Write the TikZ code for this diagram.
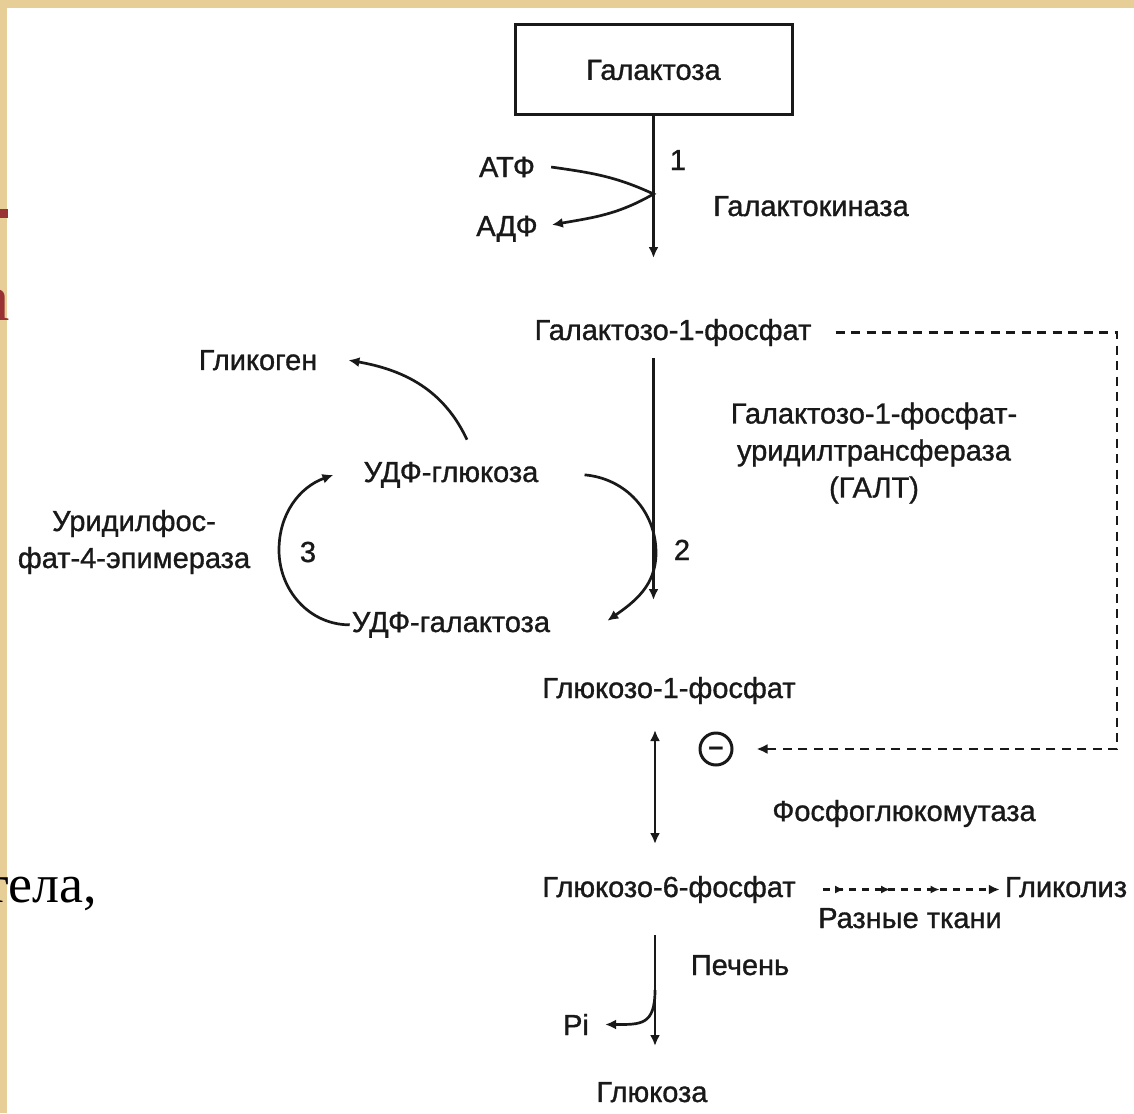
\documentclass[tikz,border=0pt]{standalone}
\usepackage{fontspec}
\setmainfont{Liberation Sans}
\newfontfamily\diagfont{Liberation Sans}[FakeBold=1.1]
\newfontfamily\slideserif{Liberation Serif}
\usetikzlibrary{arrows.meta,decorations.markings}
\definecolor{slidebeige}{RGB}{231,206,150}
\definecolor{slidered}{RGB}{152,50,52}
\definecolor{ink}{RGB}{25,25,25}

\begin{document}
\begin{tikzpicture}[
  x=1pt, y=1pt,
  >={Latex[length=11pt,width=10pt]},
  every node/.style={font=\diagfont\fontsize{29}{37}\selectfont, inner sep=2pt, text=ink},
  metab/.style={anchor=base},
  enzyme/.style={align=center},
  stepno/.style={anchor=base},
  box/.style={draw=ink, line width=3pt, minimum width=277pt, minimum height=90pt},
  arrow/.style={->, draw=ink, line width=2.7pt},
  twoway/.style={<->, draw=ink, line width=2.7pt},
  inhib/.style={->, draw=ink, line width=2.7pt, dash pattern=on 9pt off 6.5pt},
  tissue/.style={->, draw=ink, line width=2.4pt, dash pattern=on 7pt off 6pt,
    postaction={decorate},
    decoration={markings,
      mark=at position 0.12 with {\arrow{Latex[length=9pt,width=8pt]}},
      mark=at position 0.38 with {\arrow{Latex[length=9pt,width=8pt]}},
      mark=at position 0.66 with {\arrow{Latex[length=9pt,width=8pt]}}}},
  inhibitor/.style={draw=ink, circle, line width=3pt, minimum size=32pt, inner sep=0pt, font=\bfseries\fontsize{27}{27}\selectfont},
  fragment/.style={inner sep=0pt, text=black, font=\slideserif\fontsize{54}{60}\selectfont}
]

  \useasboundingbox (0,0) rectangle (1134,-1113);
  \clip (0,0) rectangle (1134,-1113);

  \fill[slidebeige] (0,0) rectangle (1134,-8);
  \fill[slidebeige] (0,0) rectangle (7,-1113);
  \fill[slidered] (0,-209) rectangle (8,-218);
  \node[fragment, anchor=base east, text=slidered, font=\slideserif\fontsize{66}{70}\selectfont] (titlefrag) at (10,-320) {а};
  \node[fragment, anchor=base west] (bodyfrag) at (-15,-902) {тела,};


  \node[box]                   (galactose)  at (653.5,-70)  {Галактоза};
  \node[metab]                 (atp)        at (507,-177)   {АТФ};
  \node[metab]                 (adp)        at (507,-236)   {АДФ};
  \node[stepno]                (stepone)    at (678,-170)   {1};
  \node[metab]                 (kinase)     at (811,-216)   {Галактокиназа};

  \node[metab]                 (gal1p)      at (673,-340)   {Галактозо-1-фосфат};
  \node[enzyme]                (galt)       at (874,-453)   {Галактозо-1-фосфат-\\уридилтрансфераза\\(ГАЛТ)};
  \node[stepno]                (steptwo)    at (682,-560)   {2};

  \node[metab]                 (glycogen)   at (258,-370)   {Гликоген};
  \node[metab]                 (udpglc)     at (451,-482)   {УДФ-глюкоза};
  \node[metab]                 (udpgal)     at (451,-632)   {УДФ-галактоза};
  \node[stepno]                (stepthree)  at (308,-562)   {3};
  \node[enzyme]                (epimerase)  at (134,-542)   {Уридилфос-\\фат-4-эпимераза};

  \node[metab]                 (g1p)        at (669,-698)   {Глюкозо-1-фосфат};
  \node[inhibitor]             (minus)      at (716,-749)   {\raisebox{-8.5pt}[0pt][0pt]{−}};
  \node[metab]                 (mutase)     at (904,-821)   {Фосфоглюкомутаза};

  \node[metab]                 (g6p)        at (669,-897)   {Глюкозо-6-фосфат};
  \node[metab]                 (glycolysis) at (1066,-897)  {Гликолиз};
  \node[metab]                 (tissues)    at (910,-928)   {Разные ткани};
  \node[metab]                 (liver)      at (740,-975)   {Печень};
  \node[metab]                 (pi)         at (576,-1035)  {Pi};
  \node[metab]                 (glucose)    at (652,-1102)  {Глюкоза};


  \coordinate (kinjoin)    at (653.5,-194);
  \coordinate (kinend)     at (653.5,-258);
  \coordinate (galtstart)  at (653.5,-358);
  \coordinate (galtend)    at (653.5,-600);
  \coordinate (galtturn)   at (656,-553);
  \coordinate (epiturn)    at (279,-550);
  \coordinate (mutasetop)  at (655,-730);
  \coordinate (mutasebot)  at (655,-844);
  \coordinate (liverstart) at (655,-935);
  \coordinate (liverend)   at (655,-1046);
  \coordinate (piturn)     at (655,-990);
  \coordinate (inhibcorner) at (1117,-749);


  \draw[arrow] (galactose.south) -- (kinend);
  \draw[arrow] ([xshift=14pt]atp.east) to[out=-8,in=155] (kinjoin) to[out=-150,in=10] ([xshift=12pt,yshift=4pt]adp.east);

  \draw[arrow] (galtstart) -- (galtend);
  \draw[arrow] ([xshift=44pt]udpglc.east) to[out=-5,in=90] (galtturn) to[out=-90,in=35] ([xshift=55pt,yshift=4pt]udpgal.east);

  \draw[arrow] (udpgal.west) to[out=180,in=-90] (epiturn) to[out=90,in=200] ([xshift=-28pt]udpglc.west);
  \draw[arrow] ([xshift=16pt,yshift=20pt]udpglc.north) to[out=115,in=-10] ([xshift=29pt]glycogen.east);

  \draw[inhib] ([xshift=22pt]gal1p.east) -| (inhibcorner) -- ([xshift=23pt]minus.east);
  \draw[twoway] (mutasetop) -- (mutasebot);

  \draw[tissue] ([xshift=25pt]g6p.east) -- ([xshift=-3pt]g6p.east -| glycolysis.west);
  \draw[arrow] (liverstart) -- (liverend);
  \draw[arrow] (piturn) to[out=-90,in=0,looseness=1.5] ([xshift=14pt]pi.east);
\end{tikzpicture}
\end{document}
